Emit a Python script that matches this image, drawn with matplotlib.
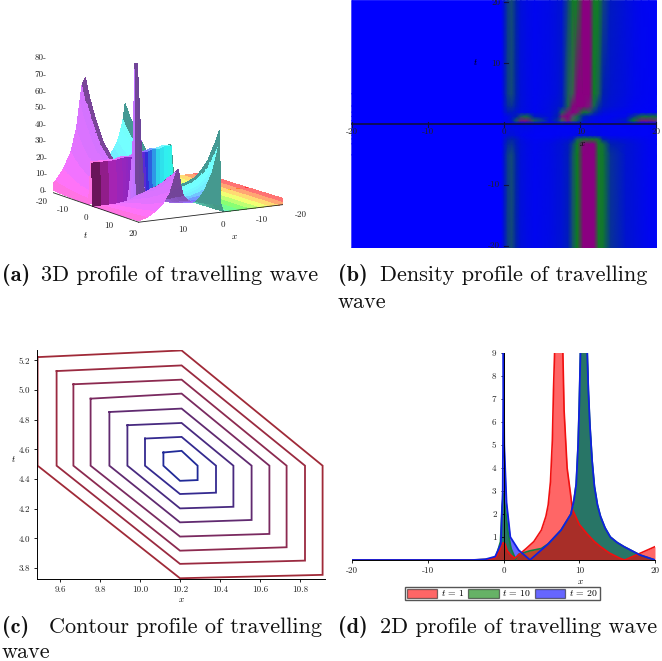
#! /usr/bin/env python
import numpy as np
import matplotlib
matplotlib.use('Agg')
import matplotlib.pyplot as plt
from matplotlib.colors import LinearSegmentedColormap, hsv_to_rgb
from matplotlib.patches import Patch
from mpl_toolkits.mplot3d import proj3d

W, H = 662, 661

# (a) surface table
surface_x = [-20, -17.5, -15, -12.5, -10, -7.5, -5, -2.5, -1, -0.4, 0, 0.5, 1, 2, 3, 4, 5, 6, 6.7, 7.3, 8, 9,
             9.6, 10.2, 11, 11.6, 12.5, 14, 16, 18, 20]
surface_t = [-20, -18, -16, -14, -12, -8, -4, -1.5, -0.4, 0, 0.3, 0.8, 1.2, 2, 4, 7, 10, 12, 14, 15.5, 17, 18.5, 20]
ridge0_height = [48, 41, 36, 31, 26, 17, 11, 8, 7, 7, 6, 6, 6, 7, 9, 12, 16, 20, 25, 29, 35, 41, 48]
ridge10_height = [66, 54, 45, 37, 30, 22, 17, 14, 12, 0, 0, 0, 0, 3, 6, 9, 13, 15, 18, 20, 23, 25, 28]
ridge0_shape = [0, 0, 0, 0, 0, 0, 0, 0, 0.01, 0.1, 1, 0.82, 0.7, 0.5, 0.37, 0.25, 0.16, 0.09, 0.05, 0.03, 0.01, 0,
                0, 0, 0, 0, 0, 0, 0, 0, 0]
ridge10_shape = [0, 0, 0, 0, 0, 0, 0, 0, 0, 0, 0, 0, 0, 0.02, 0.05, 0.08, 0.12, 0.16, 0.2, 0.25, 0.32, 0.45,
                 0.65, 1, 0.95, 0.8, 0.55, 0.33, 0.18, 0.08, 0.03]
wall_height = [0, 0, 0, 0, 0, 0, 0, 0, 0, 20, 31, 31, 31, 31, 30, 30, 30, 29, 29, 29, 28, 28, 28, 27, 27, 27, 27,
               26, 26, 26, 26]
wall_rows = [-0.4, 0]
spike_t = 0.8
spike_shape = [0, 0, 0, 0, 0, 0, 0, 0, 0, 0, 0, 0, 0, 0, 0, 0, 0, 0, 0, 5, 30, 82, 82, 30, 10, 0, 0, 0, 0, 0, 0]
hue_x = [-20, 0, 3, 5, 7, 10, 20]
hue_stops = [0.0, 0.49, 0.52, 0.62, 0.73, 0.77, 0.89]
wall_shade_x = [-20, 0, 4, 8, 14, 17, 20]
wall_shade = [1, 0.95, 0.9, 0.8, 0.7, 0.5, 0.25]

# (b) density levels: one row per t, one column per x
density_x = [-20, -0.4, 0, 0.5, 1, 1.6, 2.2, 3, 4, 6, 7, 7.6, 8.4, 9, 9.6, 10.4, 11.2, 11.8, 12.4, 13, 14, 16, 17, 18, 19, 20]
density_t = [-20.3, -5, -3.2, -2.4, -1.8, 0.2, 0.6, 1.3, 2, 3, 5, 20.3]
density_levels = [
    [0, 0, .16, .33, .36, .26, .12, .08, .05, .08, .12, .14, .22, .38, .6, .92, .92, .92, .62, .55, .3, .15, .12, .08, .05, .03],
    [0, 0, .16, .33, .36, .26, .12, .08, .05, .08, .12, .14, .22, .38, .6, .92, .92, .92, .62, .55, .3, .15, .12, .08, .05, .03],
    [0, 0, .14, .28, .3, .22, .12, .08, .05, .08, .12, .14, .2, .34, .58, .88, .92, .9, .62, .5, .25, .15, .12, .08, .05, .03],
    [0, 0, .12, .24, .26, .2, .1, .06, .04, .05, .08, .1, .12, .2, .42, .62, .62, .62, .5, .25, .14, .1, .08, .06, .04, .02],
    [0, 0, .06, .12, .14, .1, .06, .04, .03, .03, .04, .05, .05, .06, .08, .1, .1, .1, .08, .06, .05, .04, .04, .03, .03, .02],
    [0, 0, .02, .04, .05, .06, .08, .1, .05, .03, .03, .03, .03, .03, .03, .03, .03, .03, .03, .03, .03, .03, .03, .03, .03, .03],
    [0, 0, .04, .08, .2, .45, .85, .85, .45, .12, .3, .7, .85, .7, .4, .2, .12, .08, .06, .05, .08, .2, .6, .85, .85, .8],
    [0, 0, .04, .08, .15, .25, .4, .5, .2, .1, .25, .85, .9, .75, .5, .25, .15, .1, .08, .06, .05, .08, .3, .5, .5, .5],
    [0, 0, .1, .2, .2, .15, .1, .08, .05, .1, .2, .42, .85, .9, .85, .55, .42, .3, .2, .12, .08, .05, .04, .03, .03, .02],
    [0, 0, .13, .28, .3, .22, .12, .08, .05, .1, .15, .2, .45, .88, .9, .9, .85, .45, .3, .2, .14, .08, .05, .04, .03, .02],
    [0, 0, .16, .33, .36, .26, .12, .08, .05, .08, .12, .18, .42, .7, .92, .92, .9, .58, .42, .25, .16, .1, .07, .05, .04, .02],
    [0, 0, .16, .33, .36, .26, .12, .08, .05, .08, .12, .14, .35, .58, .62, .92, .92, .62, .58, .35, .2, .12, .08, .05, .04, .02],
]

# (c) contour hexagons, outermost first
contour_left = [9.488, 9.583, 9.667, 9.753, 9.847, 9.937, 10.025, 10.117]
contour_right = [10.913, 10.825, 10.733, 10.647, 10.558, 10.467, 10.38, 10.288]
contour_upper_left = [5.222, 5.128, 5.039, 4.942, 4.852, 4.763, 4.673, 4.579]
contour_top = [5.267, 5.166, 5.07, 4.976, 4.875, 4.778, 4.684, 4.59]
contour_lower_right = [3.754, 3.85, 3.94, 4.03, 4.124, 4.213, 4.308, 4.393]
contour_bottom = [3.731, 3.828, 3.917, 4.012, 4.108, 4.202, 4.299, 4.388]
contour_mid = 4.49
contour_colors = ['#a02a38', '#9a2a40', '#8c2a50', '#7a2a60', '#602a70', '#482a80', '#342a90', '#202a98']

# (d) travelling wave at three times
x_t1 = [-20, -5, -2, -1, -0.5, -0.2, 0, 0.2, 0.5, 1, 1.5, 2, 3, 4, 5, 5.6, 5.9, 6.2, 6.45, 6.6, 6.8, 7.2, 7.8, 8, 8.4, 8.9, 9.1, 10, 11, 12, 12.8, 14, 15.4, 16, 17.2, 20]
y_t1 = [0, 0, 0.02, 0.1, 0.4, 0.7, 0.75, 0.7, 0.4, 0.2, 0.08, 0.22, 0.5, 0.8, 1.3, 1.9, 2.4, 3.4, 5.2, 7.4, 9.6, 12, 9.6, 6.5, 4.0, 2.75, 2.2, 1.55, 1.15, 0.8, 0.58, 0.3, 0.07, 0, 0.17, 0.58]
x_t10 = [-20, -4, -2, -1, -0.4, -0.2, 0, 0.3, 0.6, 1, 1.6, 2, 3.5, 5, 5.9, 7.6, 8.9, 9.3, 9.6, 9.85, 10, 10.2, 10.6, 11, 11.2, 11.4, 11.7, 12, 12.4, 12.8, 13.4, 14.1, 15, 15.9, 18, 20]
y_t10 = [0, 0, 0.03, 0.12, 0.8, 2.3, 2.9, 2, 1.2, 0.5, 0.03, 0.25, 0.4, 0.5, 0.7, 1.3, 2, 2.6, 3.3, 5, 6.7, 9.6, 12, 9.6, 7.4, 5.9, 4.3, 3.2, 2.4, 1.9, 1.4, 1, 0.76, 0.58, 0.22, 0]
x_t20 = [-20, -4, -2.4, -1.1, -0.35, -0.1, 0, 0.1, 0.4, 0.9, 2, 3.5, 5.9, 7.6, 8.9, 9.3, 9.6, 9.85, 10, 10.2, 10.6, 11, 11.2, 11.4, 11.7, 12, 12.4, 12.8, 13.4, 14.1, 15, 15.9, 18, 20]
y_t20 = [0, 0, 0.03, 0.15, 0.7, 3, 9.6, 5, 2.5, 1, 0.43, 0, 0.7, 1.3, 2, 2.6, 3.3, 5, 6.7, 9.6, 12, 9.6, 7.4, 5.9, 4.3, 3.2, 2.4, 1.9, 1.4, 1, 0.76, 0.58, 0.22, 0]
legend_labels = ['1', '10', '20']

plt.rcParams['axes.unicode_minus'] = False
plt.rcParams['axes.formatter.use_mathtext'] = True
plt.rcParams['mathtext.fontset'] = 'cm'
TICK = dict(family='cmr10', fontsize=6.5, color='#222222')
CAP = 16


def pixel_axes(left, top, right, bottom, **kw):
	return fig.add_axes([left / W, 1 - bottom / H, (right - left) / W, (bottom - top) / H], **kw)


def caption(x, y, tag, text, gap):
	fig.text(x / W, 1 - y / H, tag, family='cmb10', fontsize=CAP, color='#111111', va='baseline')
	fig.text(gap / W, 1 - y / H, text, family='cmr10', fontsize=CAP, color='#111111', va='baseline')


# text at a 3D position, placed through the axes' own projection
def label3d(ax, x, y, z, s, **kw):
	px, py, _ = proj3d.proj_transform(x, y, z, ax.get_proj())
	ax.text2D(px, py, s, transform=ax.transData, **kw)


fig = plt.figure(figsize=(W / 100, H / 100), dpi=100)

# --- (a) 3D profile ---
ax = pixel_axes(3, 14, 333, 244, projection='3d', computed_zorder=False)
ax.set_proj_type('persp', focal_length=2.5)
ax.view_init(elev=10, azim=-31)
ax.set_box_aspect((1, 1, 0.79), zoom=1.25)
ax.set_axis_off()
ax.set_xticks([])
ax.set_yticks([])
ax.set_zticks([])
sx = np.array(surface_x, dtype=float)
st = np.array(surface_t, dtype=float)
u = np.outer(ridge0_height, ridge0_shape) + np.outer(ridge10_height, ridge10_shape)
for i, t in enumerate(surface_t):
	if t in wall_rows:
		u[i] = np.maximum(u[i], wall_height)
	if t == spike_t:
		u[i] = np.maximum(u[i], spike_shape)
T, X = np.meshgrid(st, sx, indexing='ij')
hue = np.interp(X, hue_x, hue_stops)
rgb = hsv_to_rgb(np.dstack([hue, np.full(hue.shape, 0.55), np.full(hue.shape, 1.0)]))
# shade by hand, only faces turned away from +x go dark
du_dx = np.gradient(u, sx, axis=1)
light = (0.55 * -du_dx / 2 + 0.6) / np.sqrt((du_dx / 2) ** 2 + 1)
bright = np.clip(0.7 + 0.5 * light, 0.6, 1)
rgb = rgb * bright[:, :, None]
wall_row = surface_t.index(0)
rgb[wall_row] = hsv_to_rgb(np.column_stack([hue[wall_row], np.full(len(sx), 0.8), np.interp(sx, wall_shade_x, wall_shade)]))
rgba = np.dstack([rgb, np.ones(hue.shape)])
ax.plot_surface(T, -X, u, facecolors=rgba, rcount=len(st), ccount=len(sx), shade=False, linewidth=0, antialiased=False)
ax.set_xlim(-20, 20)
ax.set_ylim(-20, 20)
ax.set_zlim(0, 85)
# axes drawn by hand so they sit on the surface edges
ax.plot([-20, -20], [-20, -20], [0, 85], color='#222222', lw=0.9)
ax.plot([-20, 20], [-20, -20], [0, 0], color='#222222', lw=0.6)
ax.plot([20, 20], [-20, 20], [0, 0], color='#222222', lw=0.6)
for z in range(0, 90, 10):
	label3d(ax, -20, -20, z, '%d-' % z, ha='right', va='center', **TICK)
for t in [-20, -10, 0, 10, 20]:
	label3d(ax, t, -21.5, -4, '%d' % t, ha='center', va='top', **TICK)
for v in [-20, -10, 0, 10]:
	label3d(ax, 21.5, -v, -4, '%d' % v, ha='center', va='top', **TICK)
label3d(ax, 6, -25, -11, 't', family='cmmi10', fontsize=6.5, ha='center', va='top')
label3d(ax, 23, 2, -11, 'x', family='cmmi10', fontsize=6.5, ha='center', va='top')

# --- (b) density ---
ax = pixel_axes(348, 0, 658, 248)
density_cmap = LinearSegmentedColormap.from_list('density', [(0, '#0000ff'), (0.25, '#0020b0'), (0.42, '#1c6058'),
															 (0.6, '#0d7f20'), (0.75, '#50506a'), (0.9, '#8a0080'), (1, '#8a0080')])
ax.pcolormesh(density_x, density_t, np.array(density_levels), cmap=density_cmap, vmin=0, vmax=1, shading='gouraud')
ax.set_xlim(-20.5, 20.2)
ax.set_ylim(-20.3, 20.4)
ax.set_xticks([])
ax.set_yticks([])
ax.axis('off')
ax.plot([-20, 20], [0, 0], color='#101040', lw=1.2)
for v in [-20, -10, 0, 10, 20]:
	ax.text(v, -0.6, '%d' % v, ha='center', va='top', **TICK)
	ax.plot([v, v], [-0.4, 0.4], color='#101040', lw=0.8)
for v in [-20, -10, 10, 20]:
	ax.text(-0.5, v, '%d' % v, ha='right', va='center', **TICK)
	ax.plot([0, 0.5], [v, v], color='#101040', lw=0.8)
ax.text(-3.8, 10, 't', family='cmmi10', fontsize=6.5, ha='center', va='center')
ax.text(10.2, -3.2, 'x', family='cmmi10', fontsize=6.5, ha='center', va='center')

# --- (c) contours ---
ax = pixel_axes(37, 350, 325, 579)
for i in range(len(contour_left)):
	xs = [contour_left[i], 10.208, contour_right[i], contour_right[i], 10.2, contour_left[i], contour_left[i]]
	ys = [contour_upper_left[i], contour_top[i], contour_mid, contour_lower_right[i], contour_bottom[i], contour_mid, contour_upper_left[i]]
	ax.plot(xs, ys, color=contour_colors[i], lw=1.3, solid_joinstyle='miter')
ax.set_xlim(9.485, 10.925)
ax.set_ylim(3.726, 5.27)
ax.spines['top'].set_visible(False)
ax.spines['right'].set_visible(False)
for s in ['left', 'bottom']:
	ax.spines[s].set_linewidth(0.7)
ax.set_xticks([9.6, 9.8, 10.0, 10.2, 10.4, 10.6, 10.8])
ax.set_xticklabels(['%.1f' % v for v in [9.6, 9.8, 10.0, 10.2, 10.4, 10.6, 10.8]], **TICK)
ax.set_yticks([3.8, 4.0, 4.2, 4.4, 4.6, 4.8, 5.0, 5.2])
ax.set_yticklabels(['%.1f' % v for v in [3.8, 4.0, 4.2, 4.4, 4.6, 4.8, 5.0, 5.2]], **TICK)
ax.tick_params(length=2, width=0.6, pad=3)
ax.set_xlabel('x', family='cmmi10', fontsize=6.5, labelpad=1)
ax.set_ylabel('t', family='cmmi10', fontsize=6.5, rotation=0, labelpad=4)

# --- (d) 2D profile ---
ax = pixel_axes(352, 353, 655, 560)
ax.fill_between(x_t20, 0, y_t20, color='#0000ff', alpha=0.6, lw=0)
ax.fill_between(x_t10, 0, y_t10, color='#008000', alpha=0.6, lw=0)
ax.fill_between(x_t1, 0, y_t1, color='#ff0000', alpha=0.6, lw=0)
ax.plot(x_t10, y_t10, color='#108040', lw=1.2)
ax.plot(x_t1, y_t1, color='#f01010', lw=1.2)
ax.plot(x_t20, y_t20, color='#1020e0', lw=1.3)
ax.set_xlim(-20, 20)
ax.set_ylim(0, 9)
ax.spines['top'].set_visible(False)
ax.spines['right'].set_visible(False)
ax.spines['left'].set_position(('data', 0))
ax.spines['left'].set_linewidth(0.7)
ax.spines['bottom'].set_linewidth(0.7)
ax.set_xticks([-20, -10, 0, 10, 20])
ax.set_xticklabels(['-20', '-10', '0', '10', '20'], **TICK)
ax.set_yticks(range(1, 10))
ax.set_yticklabels([str(v) for v in range(1, 10)], **TICK)
ax.tick_params(length=2, width=0.6, pad=3)
ax.set_xlabel('x', family='cmmi10', fontsize=6.5, labelpad=2)
ax.xaxis.set_label_coords(0.755, -0.085)
handles = [Patch(facecolor=c, edgecolor='#222222', alpha=0.6, lw=0.9) for c in ['#ff0000', '#008000', '#0000ff']]
labels = ['$t$ = %s' % v for v in legend_labels]
leg = fig.legend(handles, labels, ncol=3, loc='center', bbox_to_anchor=(502.5 / W, 1 - 593.5 / H), frameon=True,
				 fancybox=False, edgecolor='#555555', framealpha=1, handlelength=3.1, handleheight=1.0,
				 handletextpad=0.4, columnspacing=0.4, borderpad=0.2, borderaxespad=0, prop=dict(family='cmr10', size=7))

caption(2, 281, '(a)', '3D profile of travelling wave', 41)
caption(338, 281, '(b)', 'Density profile of travelling', 380)
fig.text(338 / W, 1 - 308 / H, 'wave', family='cmr10', fontsize=CAP, color='#111111')
caption(2, 633, '(c)', 'Contour profile of travelling', 49)
fig.text(2 / W, 1 - 658 / H, 'wave', family='cmr10', fontsize=CAP, color='#111111')
caption(338, 633, '(d)', '2D profile of travelling wave', 380)

fig.savefig('out.png', dpi=100)
